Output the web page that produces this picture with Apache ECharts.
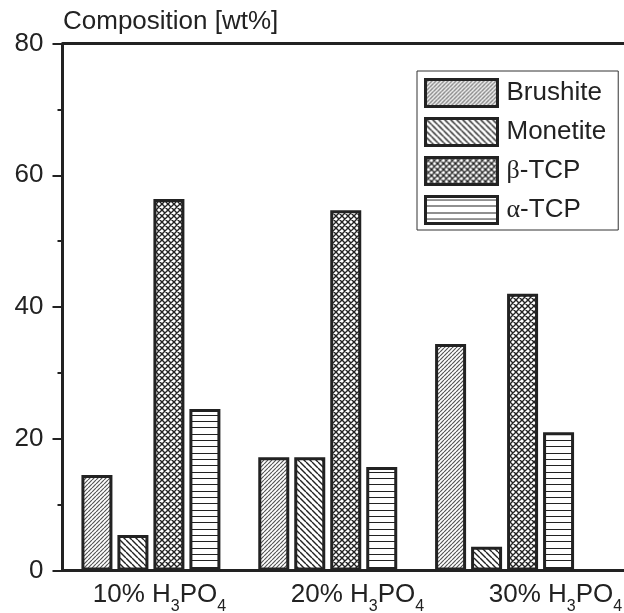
<!DOCTYPE html>
<html>
<head>
<meta charset="utf-8">
<script src="https://cdn.jsdelivr.net/npm/echarts@6/dist/echarts.min.js"></script>
<style>html,body{margin:0;padding:0;background:#fff}#c{width:624px;height:613px}</style>
</head>
<body>
<div id="c"></div>
<script>
const categories = ['10% H_3PO_4', '20% H_3PO_4', '30% H_3PO_4'];
const seriesNames = ['Brushite', 'Monetite', 'β-TCP', 'α-TCP'];
const brushite = [14.5, 17.2, 34.4];
const monetite = [5.4, 17.2, 3.6];
const betaTCP = [56.4, 54.7, 42.0];
const alphaTCP = [24.5, 15.7, 21.0];
const yTicks = [0, 20, 40, 60, 80];

const FONT = '"Liberation Sans", Arial, sans-serif';
const INK = '#222';

function makeCanvas(w, h) {
  const c = document.createElement('canvas');
  c.width = w; c.height = h;
  const g = c.getContext('2d');
  g.fillStyle = '#fff'; g.fillRect(0, 0, w, h);
  return [c, g];
}
function diagPattern(size, dirs, color, lw) {
  const [c, g] = makeCanvas(size, size);
  g.strokeStyle = color; g.lineWidth = lw; g.beginPath();
  for (let k = -1; k <= 1; k++) {
    if (dirs.indexOf('/') >= 0) { g.moveTo(k * size, size); g.lineTo(k * size + size, 0); }
    if (dirs.indexOf('\\') >= 0) { g.moveTo(k * size, 0); g.lineTo(k * size + size, size); }
  }
  g.stroke();
  return { image: c, repeat: 'repeat' };
}
function horizPattern(ys, h, color, lw) {
  const [c, g] = makeCanvas(4, h);
  g.strokeStyle = color; g.lineWidth = lw; g.beginPath();
  ys.forEach(function (y) { g.moveTo(0, y); g.lineTo(4, y); });
  g.stroke();
  return { image: c, repeat: 'repeat' };
}
const patterns = [
  diagPattern(4, '/', '#555', 1.2),
  diagPattern(6, '\\', '#222', 1.4),
  diagPattern(6, '/\\', '#222', 1.4),
  horizPattern([3.5, 9.5, 16.5], 19, '#222', 1)
];
const values = [brushite, monetite, betaTCP, alphaTCP];

const chart = echarts.init(document.getElementById('c'), null, { renderer: 'canvas' });

function labelFmt(v) {
  return v.replace(/_(\d)/g, '{s|$1}').replace(/^([^{]+)/, '{m|$1}').replace(/\}([A-Z]+)\{/g, '}{m|$1}{');
}

const option = {
  backgroundColor: '#fff',
  animation: false,
  title: {
    text: 'Composition [wt%]', left: 58, top: 4,
    textStyle: { fontFamily: FONT, fontSize: 26, fontWeight: 'normal', color: INK }
  },
  legend: {
    orient: 'vertical', left: 417, top: 71,
    padding: [7, 12, 5, 7],
    borderColor: '#333', borderWidth: 1,
    itemWidth: 72, itemHeight: 27, itemGap: 9,
    icon: 'rect',
    itemStyle: { borderColor: INK, borderWidth: 3 },
    formatter: function (n) { return n.replace(/^([βα])/, '{g|$1}'); },
    textStyle: {
      fontFamily: FONT, fontSize: 26, color: INK, lineHeight: 27, padding: [0, 0, 0, 4],
      rich: { g: { fontFamily: '"Liberation Serif", serif', fontSize: 26, color: INK, lineHeight: 27 } }
    },
    data: seriesNames
  },
  grid: [
    { left: 62.5, right: 31, top: 43.5, bottom: 42.5, outerBoundsMode: 'none' },
    { left: 60.5, width: 594, top: 43.5, bottom: 42.5, outerBoundsMode: 'none' }
  ],
  xAxis: [
    {
      type: 'category', gridIndex: 0, data: categories,
      axisLine: { lineStyle: { color: INK, width: 3 } },
      axisTick: { show: false },
      axisLabel: { show: false }
    },
    {
      type: 'category', gridIndex: 1, data: categories,
      axisLine: { show: false }, axisTick: { show: false },
      axisLabel: {
        margin: 11, interval: 0,
        formatter: labelFmt,
        rich: {
          m: { fontFamily: FONT, fontSize: 26, color: INK, lineHeight: 26, verticalAlign: 'top' },
          s: { fontFamily: FONT, fontSize: 16, color: INK, lineHeight: 16, verticalAlign: 'top', padding: [17, 0, 0, 0] }
        }
      }
    }
  ],
  yAxis: [
    {
      type: 'value', gridIndex: 0, min: yTicks[0], max: yTicks[yTicks.length - 1], interval: 20,
      axisLine: { show: true, lineStyle: { color: INK, width: 3 } },
      axisTick: { show: true, length: 10, lineStyle: { color: INK, width: 2 } },
      minorTick: { show: true, splitNumber: 2, length: 5, lineStyle: { color: INK, width: 2 } },
      splitLine: { show: false },
      axisLabel: { margin: 19, fontFamily: FONT, fontSize: 26, color: INK }
    },
    { type: 'value', gridIndex: 1, show: false, min: 0, max: 80 }
  ],
  series: values.map(function (arr, i) {
    return {
      name: seriesNames[i], type: 'bar', xAxisIndex: 0, yAxisIndex: 0,
      data: arr, barWidth: 31, barGap: '16.1%',
      itemStyle: { color: patterns[i], borderColor: INK, borderWidth: 3 }
    };
  })
};
chart.setOption(option);

const yTop = chart.convertToPixel({ yAxisIndex: 0 }, yTicks[yTicks.length - 1]);
const yBot = chart.convertToPixel({ yAxisIndex: 0 }, yTicks[0]);
chart.setOption({
  graphic: [
    { type: 'line', shape: { x1: 62.5, y1: yTop, x2: 624, y2: yTop }, style: { stroke: INK, lineWidth: 3 }, z: 10 },
    { type: 'line', shape: { x1: 590, y1: yBot, x2: 624, y2: yBot }, style: { stroke: INK, lineWidth: 3 }, z: 10 }
  ]
});
</script>
</body>
</html>
